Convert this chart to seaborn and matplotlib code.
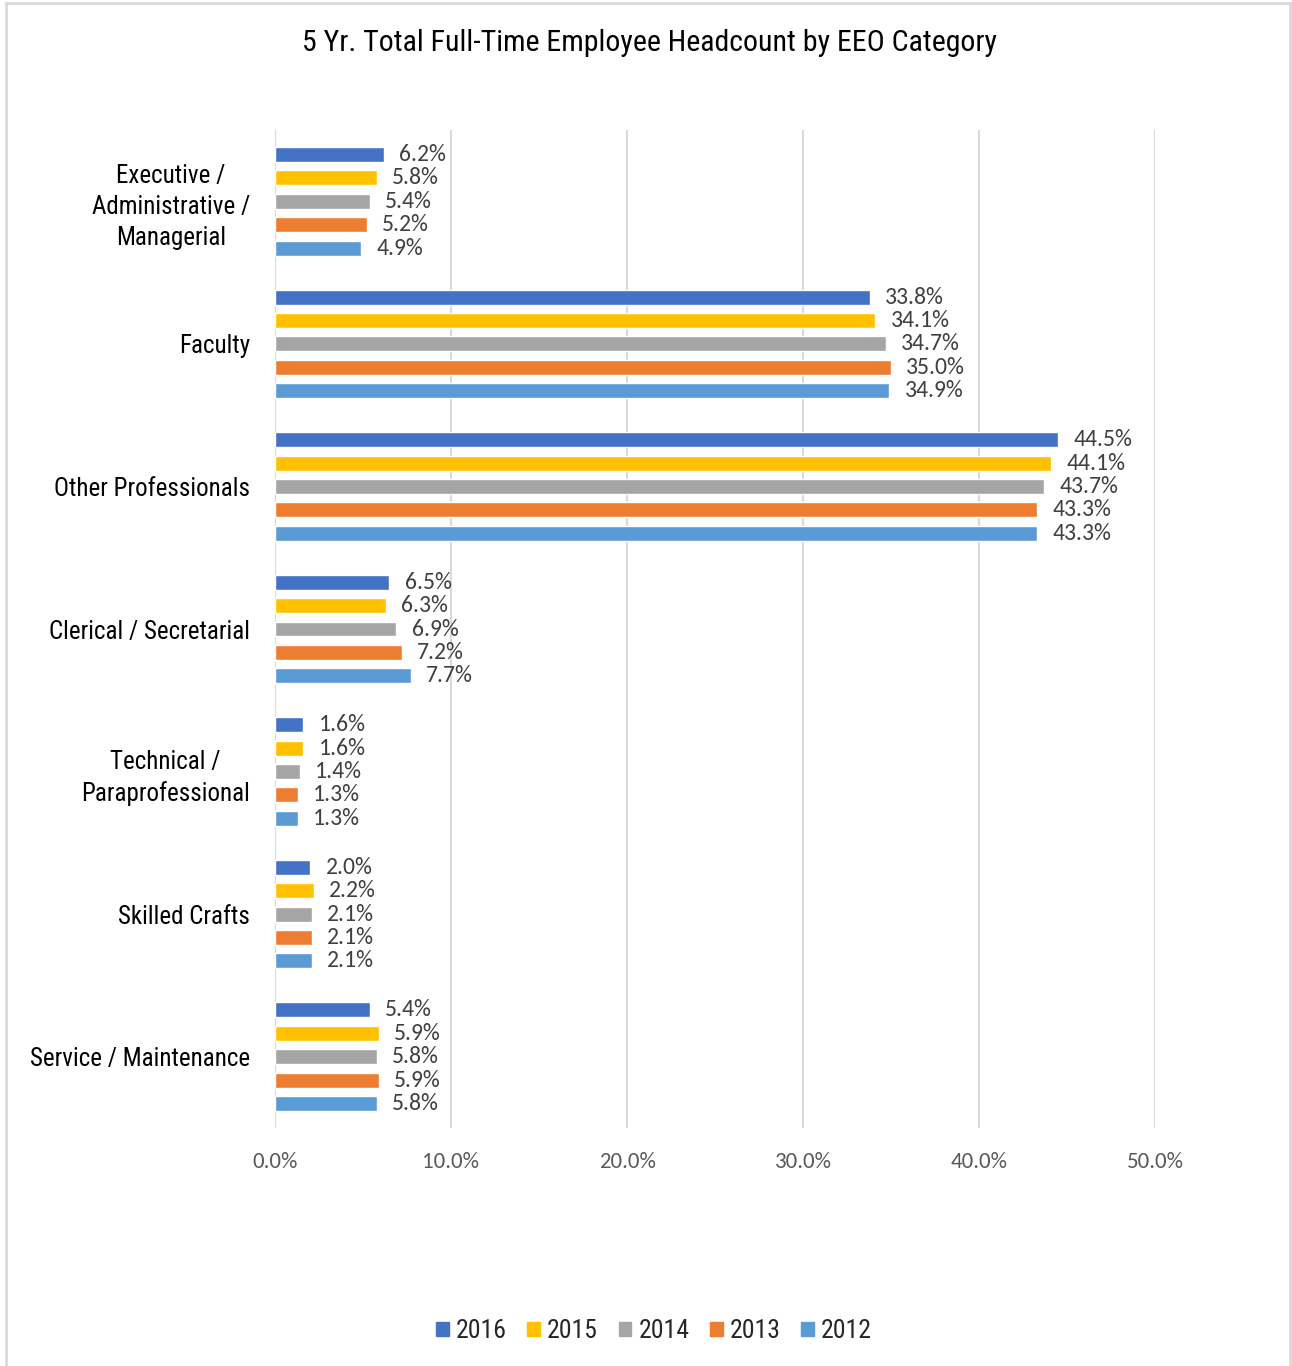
import matplotlib
matplotlib.use("Agg")
import matplotlib.pyplot as plt
import matplotlib.patches as mpatches
from matplotlib.ticker import FuncFormatter
import seaborn as sns
import pandas as pd

categories = [
    "Executive /\nAdministrative /\nManagerial",
    "Faculty",
    "Other Professionals",
    "Clerical / Secretarial",
    "Technical /\nParaprofessional",
    "Skilled Crafts",
    "Service / Maintenance",
]
years = ["2016", "2015", "2014", "2013", "2012"]
pct_2016 = [6.2, 33.8, 44.5, 6.5, 1.6, 2.0, 5.4]
pct_2015 = [5.8, 34.1, 44.1, 6.3, 1.6, 2.2, 5.9]
pct_2014 = [5.4, 34.7, 43.7, 6.9, 1.4, 2.1, 5.8]
pct_2013 = [5.2, 35.0, 43.3, 7.2, 1.3, 2.1, 5.9]
pct_2012 = [4.9, 34.9, 43.3, 7.7, 1.3, 2.1, 5.8]
colors = ["#4472C4", "#FFC000", "#A5A5A5", "#ED7D31", "#5B9BD5"]
xticks = [0, 10, 20, 30, 40, 50]

series = [pct_2016, pct_2015, pct_2014, pct_2013, pct_2012]
rows = []
for yr, vals in zip(years, series):
    for cat, v in zip(categories, vals):
        rows.append({"Category": cat, "Year": yr, "Percent": v})
df = pd.DataFrame(rows)

sns.set_theme(style="white")
narrow = ["Nimbus Sans Narrow", "Roboto Condensed", "Archivo Narrow", "DejaVu Sans"]
num_font = ["Carlito", "Lato", "DejaVu Sans"]

fig = plt.figure(figsize=(12.92, 13.66), dpi=100)
ax = fig.add_axes([275 / 1292, 1 - 1128 / 1366, (1155 - 275) / 1292, (1128 - 130) / 1366])

sns.barplot(
    data=df, x="Percent", y="Category", hue="Year", orient="h",
    order=categories, hue_order=years, palette=colors,
    width=0.82, gap=0.36, ax=ax, legend=False, errorbar=None,
    saturation=1,
)

ax.set_xlim(0, 50)
ax.set_ylim(6.5, -0.5)
ax.set_xticks(xticks)
ax.xaxis.set_major_formatter(FuncFormatter(lambda v, p: f"{v:.1f}%"))
ax.grid(axis="x", color="#D9D9D9", linewidth=1.5)
ax.set_axisbelow(True)
for s in ax.spines.values():
    s.set_visible(False)
ax.set_xlabel("")
ax.set_ylabel("")
ax.tick_params(axis="x", length=0, pad=17, labelsize=16.5, labelcolor="#595959")
ax.tick_params(axis="y", length=0, pad=18, labelsize=18)
for lbl in ax.get_xticklabels():
    lbl.set_family(num_font)
for lbl in ax.get_yticklabels():
    lbl.set_family(narrow)
    lbl.set_color("#000000")
    lbl.set_linespacing(1.35)
    lbl.set_multialignment("center")

for cont in ax.containers:
    ax.bar_label(cont, fmt="%.1f%%", padding=11, fontsize=17,
                 color="#404040", family=num_font)

fig.text(0.503, 1 - 43 / 1366, "5 Yr. Total Full-Time Employee Headcount by EEO Category",
         ha="center", va="center", fontsize=21.5, family=narrow, color="#000000")

handles = [mpatches.Patch(color=c, label=y) for c, y in zip(colors, years)]
fig.legend(handles=handles, loc="center", bbox_to_anchor=(654 / 1292, 1 - 1331 / 1366),
           ncol=5, frameon=False, handlelength=0.5, handleheight=0.5,
           handletextpad=0.27, columnspacing=0.8,
           prop={"family": narrow, "size": 18.5})

border = mpatches.Rectangle((6 / 1292, -0.01), (1290 - 6) / 1292, 1.01 - 3 / 1366,
                            transform=fig.transFigure, fill=False,
                            edgecolor="#D9D9D9", linewidth=2)
fig.patches.append(border)

fig.savefig("out.png", dpi=100)
